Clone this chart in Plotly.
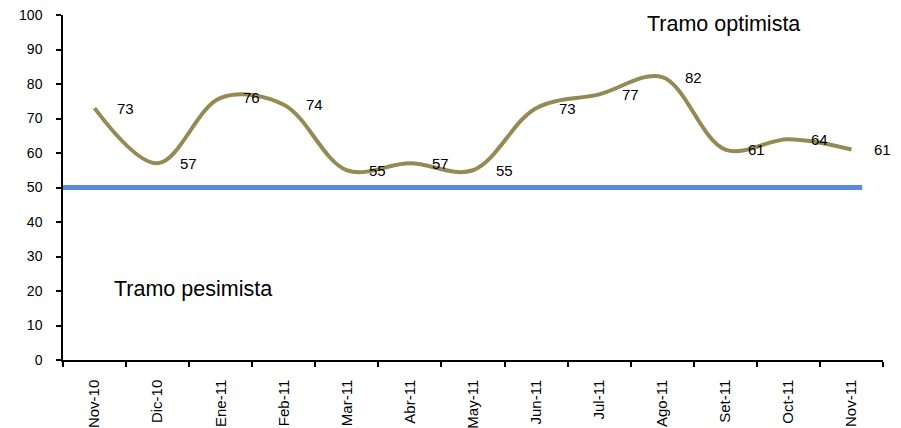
import plotly.graph_objects as go

categories = ["Nov-10", "Dic-10", "Ene-11", "Feb-11", "Mar-11", "Abr-11", "May-11",
              "Jun-11", "Jul-11", "Ago-11", "Set-11", "Oct-11", "Nov-11"]
values = [73, 57, 76, 74, 55, 57, 55, 73, 77, 82, 61, 64, 61]
threshold = 50
y_ticks = list(range(0, 101, 10))

FONT = "Arial, 'Liberation Sans', sans-serif"

fig = go.Figure()
fig.add_trace(go.Scatter(
    x=categories, y=values, mode="lines",
    line=dict(color="#948A54", width=4, shape="spline", smoothing=1),
    hoverinfo="skip", showlegend=False,
))

annotations = []
for c, v in zip(categories, values):
    annotations.append(dict(x=c, y=v, xref="x", yref="y", text=str(v), showarrow=False,
                            xshift=31, font=dict(family=FONT, size=15, color="#000000")))
annotations.append(dict(x=0.806, y=0.975, xref="paper", yref="paper", text="Tramo optimista",
                        showarrow=False, xanchor="center", yanchor="middle",
                        font=dict(family=FONT, size=21.5, color="#000000")))
annotations.append(dict(x=0.158, y=0.206, xref="paper", yref="paper", text="Tramo pesimista",
                        showarrow=False, xanchor="center", yanchor="middle",
                        font=dict(family=FONT, size=21.5, color="#000000")))

fig.update_layout(
    width=893, height=420,
    margin=dict(l=55, r=18, t=7, b=68, autoexpand=False),
    paper_bgcolor="white", plot_bgcolor="white",
    font=dict(family=FONT, size=14, color="#000000"),
    annotations=annotations,
    shapes=[dict(type="line", xref="x", yref="y", x0=-0.5, x1=12.17, y0=threshold, y1=threshold,
                 line=dict(color="#558ED5", width=5), layer="below")],
    xaxis=dict(type="category", range=[-0.5, 12.5], showline=True, linecolor="#000000", linewidth=1.5,
               ticks="outside", tickson="boundaries", ticklen=5, tickcolor="#000000", tickwidth=1.5,
               tickangle=-90, showgrid=False, zeroline=False, ticklabelstandoff=12, automargin=False,
               ticklabeloverflow="allow",
               tickfont=dict(family=FONT, size=15, color="#000000")),
    yaxis=dict(range=[0, 100], tickvals=y_ticks, showline=True, linecolor="#000000", linewidth=1.5,
               ticks="outside", ticklen=5, tickcolor="#000000", tickwidth=1.5, automargin=False,
               showgrid=False, zeroline=False, ticklabelstandoff=11, ticklabeloverflow="allow",
               tickfont=dict(family=FONT, size=14, color="#000000")),
)

fig.write_html("out.html")
